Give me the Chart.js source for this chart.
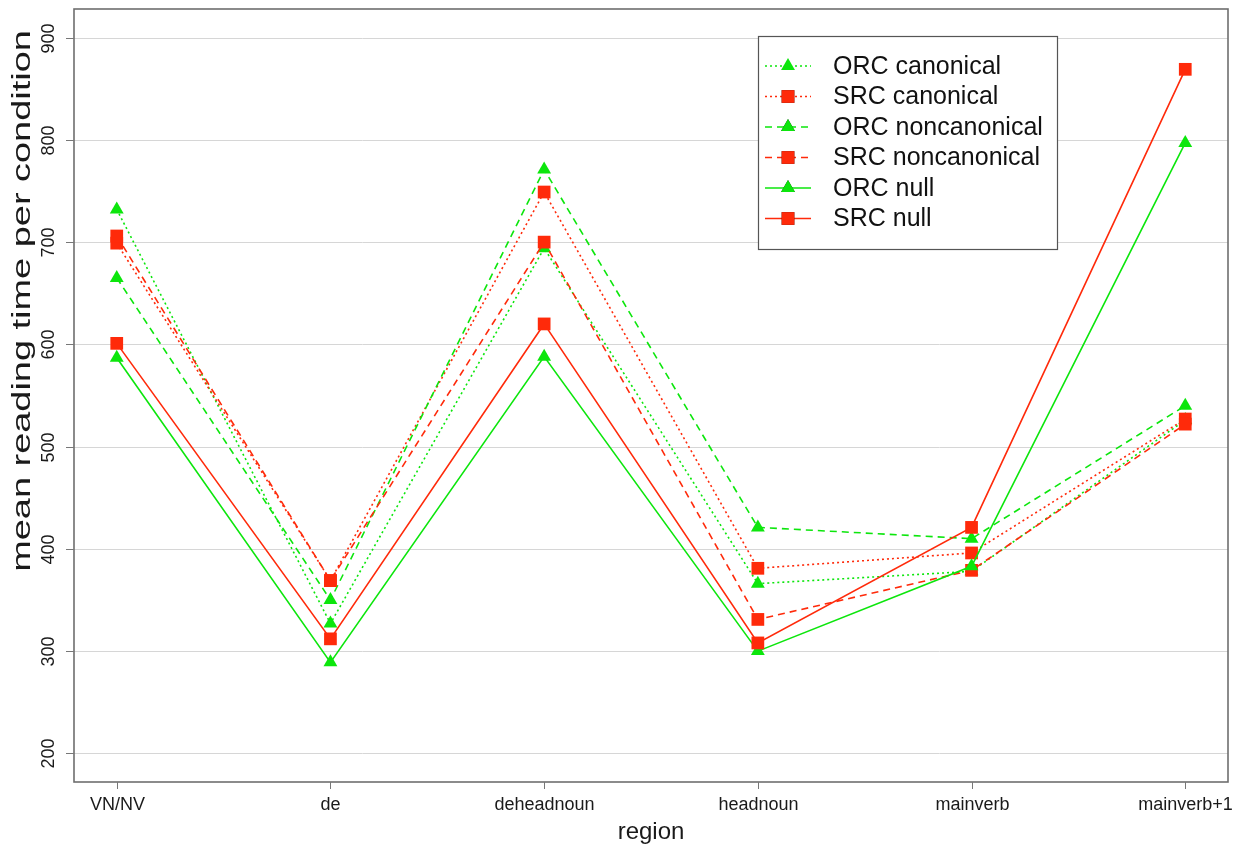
<!DOCTYPE html>
<html>
<head>
<meta charset="utf-8">
<script src="https://cdn.jsdelivr.net/npm/chart.js@4.4.1/dist/chart.umd.min.js"></script>
<style>
  html, body { margin: 0; padding: 0; background: #fff; }
</style>
</head>
<body>
<canvas id="rt" width="1249" height="846"></canvas>
<script>
// regions on the x axis
var regions = ['VN/NV', 'de', 'deheadnoun', 'headnoun', 'mainverb', 'mainverb+1'];
var yTicks = [200, 300, 400, 500, 600, 700, 800, 900];

// mean reading times, one value per region
var orcCanonical    = [732, 327, 694, 366, 378, 526];
var srcCanonical    = [699, 369, 749, 381, 396, 527];
var orcNoncanonical = [665, 350, 771, 421, 410, 540];
var srcNoncanonical = [706, 369, 700, 331, 379, 522];
var orcNull         = [587, 289, 588, 300, 383, 797];
var srcNull         = [601, 312, 620, 308, 421, 869];

var seriesNames = ['ORC canonical', 'SRC canonical', 'ORC noncanonical', 'SRC noncanonical', 'ORC null', 'SRC null'];
var seriesValues = [orcCanonical, srcCanonical, orcNoncanonical, srcNoncanonical, orcNull, srcNull];

var GREEN = '#0ce60c';
var RED = '#ff2a0a';
var FONT = '"Liberation Sans", Arial, sans-serif';

// line type per series (R lty 3 = dotted, 2 = dashed, 1 = solid)
var dashes = [[2, 3], [2, 3], [7, 5], [7, 5], [], []];

function makeDataset(i) {
    var orc = i % 2 === 0;
    return {
        label: seriesNames[i],
        data: seriesValues[i].map(function(v, k) { return {x: k + 1, y: v}; }),
        borderColor: orc ? GREEN : RED,
        backgroundColor: orc ? GREEN : RED,
        borderWidth: 1.6,
        borderDash: dashes[i],
        pointStyle: orc ? 'triangle' : 'rect',
        pointRadius: orc ? 8 : 9,
        pointBorderWidth: 0,
        pointHoverRadius: 8,
        tension: 0,
        fill: false,
        order: 5 - i // later series on top, like R
    };
}

// draws the R style frame, axes, labels and legend
var rPlot = {
    id: 'rPlot',
    beforeDraw: function(chart) {
        var ctx = chart.ctx;
        ctx.save();
        ctx.fillStyle = '#fff';
        ctx.fillRect(0, 0, chart.width, chart.height);
        ctx.restore();
    },
    beforeDatasetsDraw: function(chart) {
        var ctx = chart.ctx, a = chart.chartArea, ys = chart.scales.y;
        ctx.save();
        ctx.strokeStyle = '#d6d6d6';
        ctx.lineWidth = 1;
        yTicks.forEach(function(t) {
            var py = Math.round(ys.getPixelForValue(t)) + 0.5;
            ctx.beginPath();
            ctx.moveTo(a.left, py);
            ctx.lineTo(a.right, py);
            ctx.stroke();
        });
        ctx.restore();
    },
    afterDatasetsDraw: function(chart) {
        var ctx = chart.ctx, a = chart.chartArea;
        var xs = chart.scales.x, ys = chart.scales.y;
        ctx.save();

        // frame
        ctx.strokeStyle = '#6e6e6e';
        ctx.lineWidth = 1.6;
        ctx.strokeRect(a.left, a.top, a.right - a.left, a.bottom - a.top);

        // y ticks + rotated labels
        ctx.strokeStyle = '#777';
        ctx.lineWidth = 1;
        ctx.fillStyle = '#1a1a1a';
        ctx.font = '18px ' + FONT;
        ctx.textAlign = 'center';
        ctx.textBaseline = 'middle';
        yTicks.forEach(function(t) {
            var py = Math.round(ys.getPixelForValue(t)) + 0.5;
            ctx.beginPath();
            ctx.moveTo(a.left - 8, py);
            ctx.lineTo(a.left, py);
            ctx.stroke();
            ctx.save();
            ctx.translate(a.left - 25, py);
            ctx.rotate(-Math.PI / 2);
            ctx.fillText(String(t), 0, 0);
            ctx.restore();
        });

        // x ticks + labels
        regions.forEach(function(r, k) {
            var px = Math.round(xs.getPixelForValue(k + 1)) + 0.5;
            ctx.beginPath();
            ctx.moveTo(px, a.bottom);
            ctx.lineTo(px, a.bottom + 7);
            ctx.stroke();
            ctx.textBaseline = 'alphabetic';
            ctx.fillText(r, px, a.bottom + 28);
        });

        // axis titles
        ctx.font = '24px ' + FONT;
        ctx.fillText('region', (a.left + a.right) / 2, 839);
        ctx.save();
        ctx.translate(30, 301);
        ctx.rotate(-Math.PI / 2);
        ctx.scale(1.58, 1.05);
        ctx.fillText('mean reading time per condition', 0, 0);
        ctx.restore();

        // legend
        var lx = 758, ly = 36, lw = 299, lh = 213;
        ctx.fillStyle = '#fff';
        ctx.fillRect(lx, ly, lw, lh);
        ctx.strokeStyle = '#555';
        ctx.lineWidth = 1.2;
        ctx.strokeRect(lx + 0.5, ly + 0.5, lw, lh);
        ctx.font = '25px ' + FONT;
        ctx.textAlign = 'left';
        ctx.textBaseline = 'middle';
        chart.data.datasets.forEach(function(ds, i) {
            var rowY = ly + 30 + i * 30.5;
            ctx.save();
            ctx.strokeStyle = ds.borderColor;
            ctx.lineWidth = ds.borderWidth;
            ctx.setLineDash(ds.borderDash);
            ctx.beginPath();
            ctx.moveTo(lx + 7, rowY);
            ctx.lineTo(lx + 53, rowY);
            ctx.stroke();
            ctx.restore();
            Chart.helpers.drawPoint(ctx, {
                pointStyle: ds.pointStyle,
                radius: ds.pointRadius,
                rotation: 0,
                borderWidth: 0
            }, lx + 30, rowY);
            ctx.fillStyle = ds.backgroundColor;
            ctx.fill();
            ctx.fillStyle = '#111';
            ctx.fillText(ds.label, lx + 75, rowY + 1);
        });

        ctx.restore();
    }
};

var ctx = document.getElementById('rt').getContext('2d');

var rtChart = new Chart(ctx, {
    type: 'line',
    data: {
        datasets: seriesNames.map(function(n, i) { return makeDataset(i); })
    },
    options: {
        responsive: false,
        animation: false,
        devicePixelRatio: 1,
        layout: {
            padding: {left: 74, right: 21, top: 7, bottom: 64}
        },
        scales: {
            x: {
                type: 'linear',
                display: false,
                min: 0.8,
                max: 6.2
            },
            y: {
                display: false,
                min: 172,
                max: 928
            }
        },
        plugins: {
            legend: { display: false },
            tooltip: { enabled: false }
        }
    },
    plugins: [rPlot]
});
</script>
</body>
</html>
